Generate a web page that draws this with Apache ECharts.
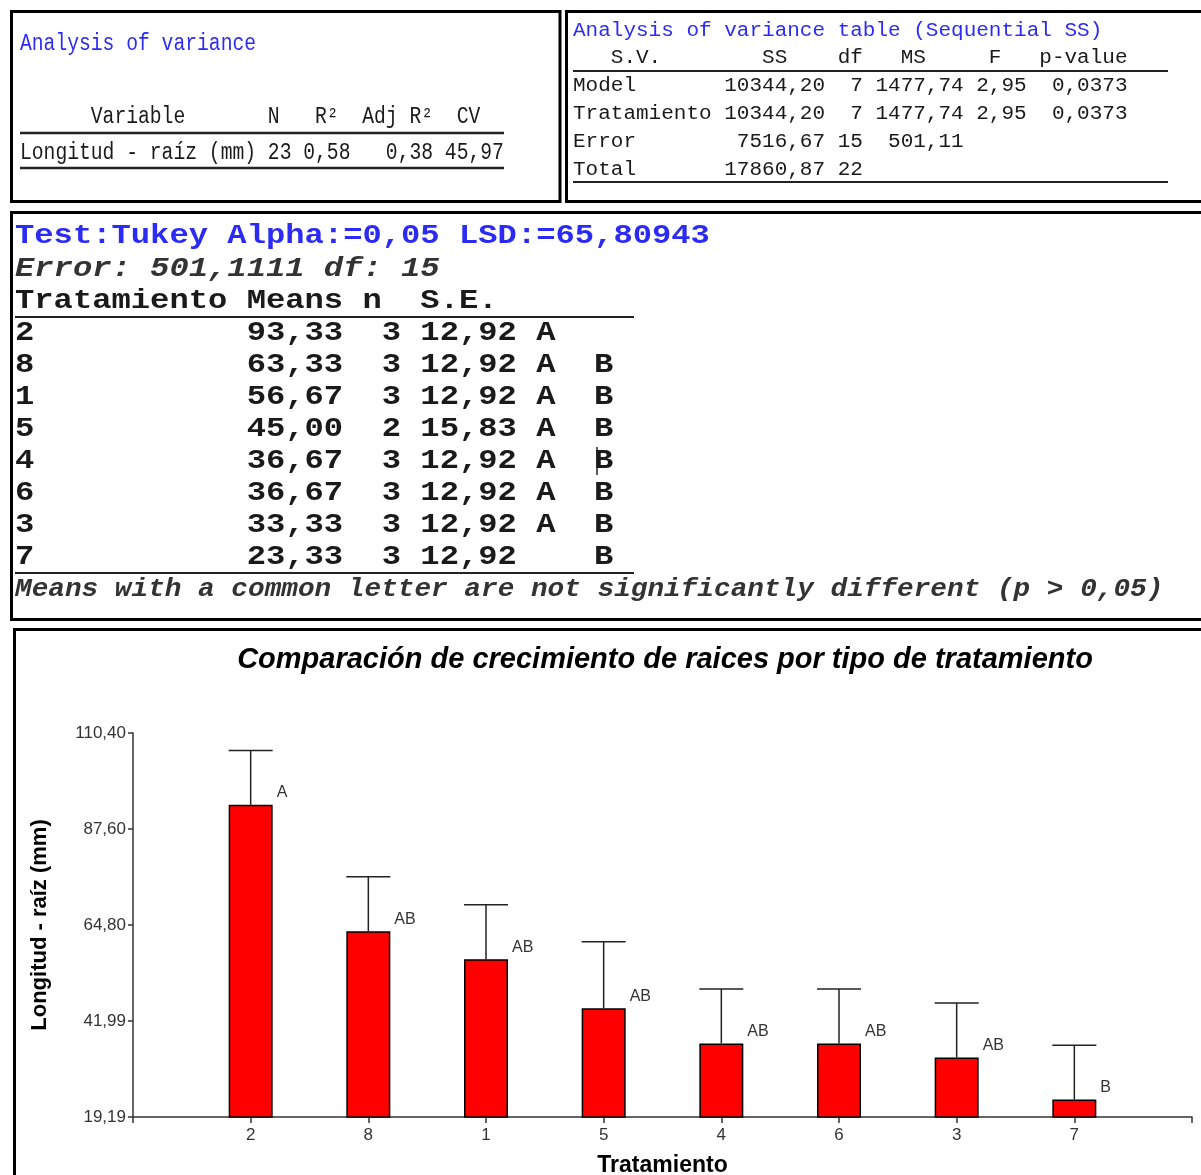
<!DOCTYPE html>
<html>
<head>
<meta charset="utf-8">
<script src="https://cdn.jsdelivr.net/npm/echarts@6/dist/echarts.min.js"></script>
<style>
html,body{margin:0;padding:0;background:#fff;}
#chart{width:1201px;height:1175px;}
</style>
</head>
<body>
<div id="chart"></div>
<script>
// ---------- Data ----------
const categories = ['2', '8', '1', '5', '4', '6', '3', '7'];
const means = [93.33, 63.33, 56.67, 45.00, 36.67, 36.67, 33.33, 23.33];
const stdErr = [12.92, 12.92, 12.92, 15.83, 12.92, 12.92, 12.92, 12.92];
const letters = ['A', 'AB', 'AB', 'AB', 'AB', 'AB', 'AB', 'B'];
const yTicks = [19.19, 41.99, 64.80, 87.60, 110.40];

// ---------- Report texts ----------
const summaryTitle = 'Analysis of variance';
const summaryHeader = '      Variable       N   R²  Adj R²  CV';
const summaryRow = 'Longitud - raíz (mm) 23 0,58   0,38 45,97';

const anovaTitle = 'Analysis of variance table (Sequential SS)';
const anovaHeader = '   S.V.        SS    df   MS     F   p-value';
const anovaRows = [
  'Model       10344,20  7 1477,74 2,95  0,0373',
  'Tratamiento 10344,20  7 1477,74 2,95  0,0373',
  'Error        7516,67 15  501,11',
  'Total       17860,87 22'
];

const tukeyTitle = 'Test:Tukey Alpha:=0,05 LSD:=65,80943';
const tukeyError = 'Error: 501,1111 df: 15';
const tukeyHeader = 'Tratamiento Means n  S.E.';
const tukeyRows = [
  '2           93,33  3 12,92 A',
  '8           63,33  3 12,92 A  B',
  '1           56,67  3 12,92 A  B',
  '5           45,00  2 15,83 A  B',
  '4           36,67  3 12,92 A  B',
  '6           36,67  3 12,92 A  B',
  '3           33,33  3 12,92 A  B',
  '7           23,33  3 12,92    B'
];
const tukeyFooter = 'Means with a common letter are not significantly different (p > 0,05)';

const chartTitle = 'Comparación de crecimiento de raices por tipo de tratamiento';
const yName = 'Longitud - raíz (mm)';
const xName = 'Tratamiento';

// ---------- Helpers ----------
const MONO = '"Liberation Mono", "Courier New", monospace';
const SANS = '"Liberation Sans", Arial, sans-serif';
const BLUE = '#2b2bf5';
const INK = '#1a1a1a';

function monoText(x, y, text, size, charW, color, style) {
  return {
    type: 'text', x: x, y: y, scaleX: charW / (0.6 * size), z: 10,
    style: {
      text: text, fill: color,
      font: (style ? style + ' ' : '') + size + 'px ' + MONO,
      align: 'left', verticalAlign: 'middle'
    }
  };
}
function hline(x1, x2, y, w, color) {
  return { type: 'line', z: 10, shape: { x1: x1, y1: y, x2: x2, y2: y }, style: { stroke: color || '#222', lineWidth: w || 2 } };
}
function box(x, y, w, h) {
  return { type: 'rect', z: 0, silent: true, shape: { x: x, y: y, width: w, height: h }, style: { fill: 'none', stroke: '#000', lineWidth: 3 } };
}

const graphics = [];
// Panel boxes
graphics.push(box(11.5, 11.5, 548.5, 190));
graphics.push(box(566.5, 11.5, 700, 190));
graphics.push(box(11.5, 212.5, 1250, 407));
graphics.push(box(14.5, 629.5, 1250, 600));

// Panel 1
const w1 = 11.8, f1 = 23;
graphics.push(monoText(20, 44, summaryTitle, f1, w1, BLUE));
graphics.push(monoText(20, 117, summaryHeader, f1, w1, INK));
graphics.push(hline(20, 504, 133, 2.5));
graphics.push(monoText(20, 153, summaryRow, f1, w1, INK));
graphics.push(hline(20, 504, 168, 2.5));

// Panel 2
const w2 = 12.6, f2 = 20;
graphics.push(monoText(573, 31, anovaTitle, f2, w2, BLUE));
graphics.push(monoText(573, 58, anovaHeader, f2, w2, INK));
graphics.push(hline(573, 1168, 71, 2));
anovaRows.forEach(function (r, i) { graphics.push(monoText(573, 86 + 28 * i, r, f2, w2, INK)); });
graphics.push(hline(573, 1168, 182, 2));

// Panel 3
const w3 = 19.3, f3 = 28;
graphics.push(monoText(15, 236, tukeyTitle, f3, w3, BLUE, 'bold'));
graphics.push(monoText(15, 269, tukeyError, f3, w3, '#333', 'italic bold'));
graphics.push(monoText(15, 301, tukeyHeader, f3, w3, INK, 'bold'));
graphics.push(hline(15, 634, 317, 2));
tukeyRows.forEach(function (r, i) { graphics.push(monoText(15, 333 + 32 * i, r, f3, w3, INK, 'bold')); });
graphics.push(hline(15, 634, 573, 2));
graphics.push(monoText(15, 589, tukeyFooter, 26, 16.64, '#333', 'italic bold'));
// text cursor artifact
graphics.push({ type: 'line', z: 11, shape: { x1: 597, y1: 447, x2: 597, y2: 475 }, style: { stroke: '#222', lineWidth: 1.5 } });

// Chart title
graphics.push({
  type: 'text', x: 665, y: 660, z: 10,
  style: { text: chartTitle, fill: '#000', font: 'italic bold 29px ' + SANS, align: 'center', verticalAlign: 'middle' }
});

// ---------- Chart ----------
const axisCats = [''].concat(categories, ['']);
const barData = ['-'].concat(means, ['-']);
const errData = categories.map(function (c, i) { return [c, means[i], stdErr[i]]; });
const fmt = function (v) { return Number(v).toFixed(2).replace('.', ','); };

const chart = echarts.init(document.getElementById('chart'), null, { renderer: 'canvas' });
chart.setOption({
  animation: false,
  backgroundColor: '#fff',
  graphic: graphics,
  grid: { left: 133, right: 9, top: 733, bottom: 58, containLabel: false, outerBoundsMode: 'none' },
  xAxis: {
    type: 'category',
    data: axisCats,
    boundaryGap: false,
    name: xName,
    nameLocation: 'middle',
    nameGap: 37,
    nameTextStyle: { fontFamily: SANS, fontWeight: 'bold', fontSize: 23, color: '#000' },
    axisLine: { show: true, onZero: false, lineStyle: { color: '#333', width: 1.5 } },
    axisTick: { show: true, length: 6, interval: 0, lineStyle: { color: '#333', width: 1.5 } },
    axisLabel: { show: true, interval: 0, margin: 10, fontFamily: SANS, fontSize: 17, color: '#333' },
    splitLine: { show: false }
  },
  yAxis: {
    type: 'value',
    min: yTicks[0],
    max: yTicks[yTicks.length - 1],
    name: yName,
    nameLocation: 'middle',
    nameGap: 82,
    nameRotate: 90,
    nameTextStyle: { fontFamily: SANS, fontWeight: 'bold', fontSize: 22, color: '#000' },
    axisLine: { show: true, lineStyle: { color: '#333', width: 1.5 } },
    axisTick: { show: true, length: 5, customValues: yTicks, lineStyle: { color: '#333', width: 1.5 } },
    axisLabel: { show: true, customValues: yTicks, formatter: fmt, margin: 7, fontFamily: SANS, fontSize: 17, color: '#333' },
    splitLine: { show: false }
  },
  series: [
    {
      type: 'bar',
      data: barData,
      barWidth: 44,
      clip: true,
      itemStyle: { color: '#ff0000', borderColor: '#000', borderWidth: 1.5 },
      emphasis: { disabled: true }
    },
    {
      type: 'custom',
      data: errData,
      encode: { x: 0, y: 1 },
      z: 5,
      clip: false,
      renderItem: function (params, api) {
        const x = api.value(0), m = api.value(1), s = api.value(2);
        const top = api.coord([x, m]);
        const et = api.coord([x, m + s]);
        const half = 22;
        return {
          type: 'group',
          children: [
            { type: 'line', shape: { x1: top[0], y1: top[1], x2: et[0], y2: et[1] }, style: { stroke: '#222', lineWidth: 1.5 } },
            { type: 'line', shape: { x1: et[0] - half, y1: et[1], x2: et[0] + half, y2: et[1] }, style: { stroke: '#222', lineWidth: 1.5 } },
            { type: 'text', x: top[0] + half + 4, y: top[1] - 12,
              style: { text: letters[params.dataIndex], fill: '#333', font: '16px ' + SANS, align: 'left', verticalAlign: 'middle' } }
          ]
        };
      }
    }
  ]
});
</script>
</body>
</html>
